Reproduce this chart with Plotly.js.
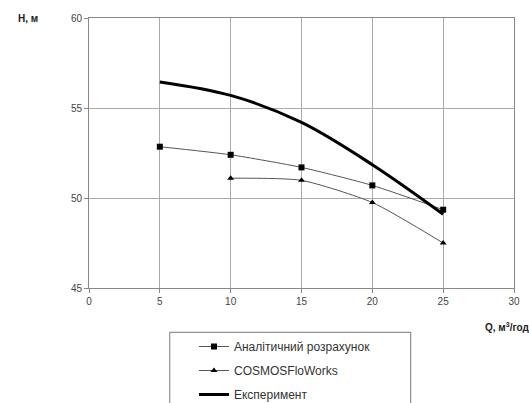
<!DOCTYPE html>
<html><head><meta charset="utf-8">
<script src="https://cdn.plot.ly/plotly-3.0.1.min.js"></script>
<style>body{margin:0;background:#fff}#c{width:529px;height:403px}</style>
</head><body><div id="c"></div>
<script>
const qAnalytic = [5, 10, 15, 20, 25];
const hAnalytic = [52.85, 52.4, 51.7, 50.7, 49.35];
const qCosmos = [10, 15, 20, 25];
const hCosmos = [51.1, 50.98, 49.75, 47.5];
const qExp = [5, 10, 15, 20, 25];
const hExp = [56.45, 55.7, 54.2, 51.85, 49.1];
const names = ["Аналітичний розрахунок", "COSMOSFloWorks", "Експеримент"];

const traces = [
  {x: qAnalytic, y: hAnalytic, name: names[0], legendgroup: "a", mode: "lines+markers",
   line: {color: "#555", width: 1, shape: "spline", smoothing: 0.6},
   marker: {symbol: "square", size: 6, color: "#000"}},
  {x: qCosmos, y: hCosmos, name: names[1], legendgroup: "b", mode: "lines+markers",
   line: {color: "#555", width: 1, shape: "spline", smoothing: 0.6},
   marker: {symbol: "triangle-up", size: 6, color: "#000"}},
  {x: qExp, y: hExp, name: names[2], legendgroup: "c", mode: "lines",
   line: {color: "#000", width: 3, shape: "spline", smoothing: 1}}
];
const layout = {
  width: 529, height: 403,
  margin: {l: 89, r: 15, t: 18, b: 115, autoexpand: false},
  paper_bgcolor: "#fff", plot_bgcolor: "#fff",
  font: {family: "Liberation Sans, Arial, sans-serif", size: 10, color: "#444"},
  xaxis: {range: [0, 30], dtick: 5, tick0: 0, showgrid: true, gridcolor: "#aaa", gridwidth: 1,
          zeroline: false, showline: true, linecolor: "#888", linewidth: 1, mirror: true,
          ticks: "outside", ticklen: 4, tickcolor: "#888", fixedrange: true},
  yaxis: {range: [45, 60], dtick: 5, tick0: 45, showgrid: true, gridcolor: "#aaa", gridwidth: 1,
          zeroline: false, showline: true, linecolor: "#888", linewidth: 1, mirror: true,
          ticks: "outside", ticklen: 4, tickcolor: "#888", fixedrange: true},
  showlegend: true,
  legend: {x: 0.247, y: -0.163, xanchor: "left", yanchor: "top", borderwidth: 0,
           bgcolor: "rgba(0,0,0,0)", font: {size: 12, color: "#333"}, tracegroupgap: 5, itemwidth: 30},
  shapes: [
    {type: "rect", xref: "paper", yref: "paper", x0: 0.19, x1: 0.757, y0: -0.164, y1: -0.6,
     line: {color: "#777", width: 1}, fillcolor: "rgba(0,0,0,0)", layer: "below"}
  ],
  annotations: [
    {text: "<b>H, м</b>", xref: "paper", yref: "paper", x: -0.115, y: 1.0, xanchor: "right", yanchor: "middle",
     showarrow: false, font: {size: 10, color: "#222"}},
    {text: "<b>Q, м<sup>3</sup>/год</b>", xref: "paper", yref: "paper", x: 1.04, y: -0.115, xanchor: "right", yanchor: "top",
     showarrow: false, font: {size: 10, color: "#222"}}
  ]
};
Plotly.newPlot("c", traces, layout, {displayModeBar: false, staticPlot: true});
</script></body></html>
